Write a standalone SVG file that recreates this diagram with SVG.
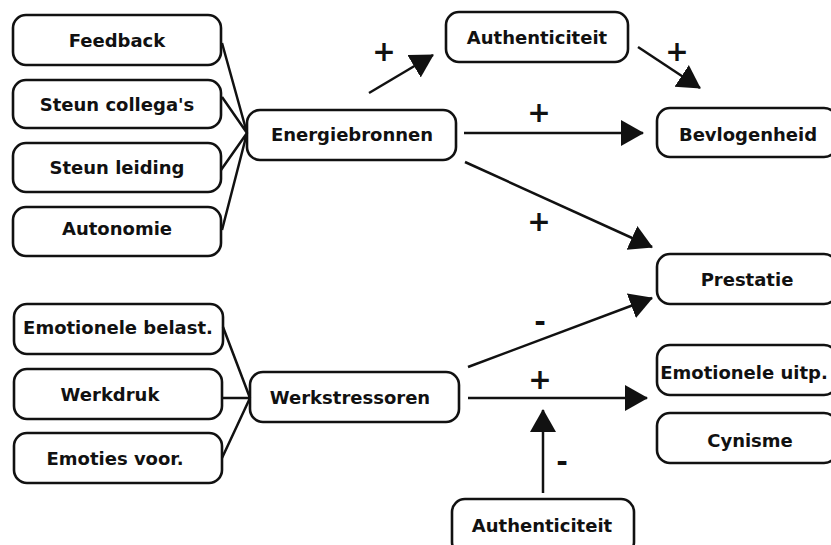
<svg xmlns="http://www.w3.org/2000/svg" width="831" height="545" viewBox="0 0 831 545">
<defs>
<style>
.box{fill:#fff;stroke:#111;stroke-width:2.6}
.t{font-family:"DejaVu Sans",Verdana,sans-serif;font-weight:bold;font-size:18px;fill:#111;text-anchor:middle;dominant-baseline:central}
.s{font-family:"DejaVu Sans",Verdana,sans-serif;font-weight:bold;font-size:28px;fill:#111;text-anchor:middle;dominant-baseline:central}
.ln{stroke:#111;stroke-width:2.5;fill:none}
.ar{stroke:#111;stroke-width:2.5;fill:none;marker-end:url(#ah)}
</style>
<marker id="ah" markerUnits="userSpaceOnUse" markerWidth="26" markerHeight="28" refX="22" refY="13" orient="auto">
<path d="M0,0 L23,13 L0,26 Z" fill="#111"/>
</marker>
</defs>
<rect width="831" height="545" fill="#fff"/>
<g id="feedback"><rect class="box" x="13" y="15" width="208" height="50" rx="13"/><text class="t" x="117" y="40">Feedback</text></g>
<g id="steun-collegas"><rect class="box" x="13" y="80" width="208" height="48" rx="13"/><text class="t" x="117" y="104">Steun collega's</text></g>
<g id="steun-leiding"><rect class="box" x="13" y="143" width="208" height="49" rx="13"/><text class="t" x="117" y="167">Steun leiding</text></g>
<g id="autonomie"><rect class="box" x="13" y="207" width="208" height="49" rx="13"/><text class="t" x="117" y="228">Autonomie</text></g>
<g id="energiebronnen"><rect class="box" x="247" y="110" width="209" height="50" rx="13"/><text class="t" x="352" y="134">Energiebronnen</text></g>
<g id="authenticiteit-top"><rect class="box" x="446" y="12" width="182" height="50" rx="13"/><text class="t" x="537" y="37">Authenticiteit</text></g>
<g id="bevlogenheid"><rect class="box" x="657" y="108" width="180" height="49" rx="13"/><text class="t" x="748" y="134">Bevlogenheid</text></g>
<g id="prestatie"><rect class="box" x="657" y="254" width="180" height="50" rx="13"/><text class="t" x="747" y="279">Prestatie</text></g>
<g id="emotionele-uitp"><rect class="box" x="657" y="345" width="180" height="50" rx="13"/><text class="t" x="744" y="372">Emotionele uitp.</text></g>
<g id="cynisme"><rect class="box" x="657" y="413" width="180" height="50" rx="13"/><text class="t" x="750" y="440">Cynisme</text></g>
<g id="emotionele-belast"><rect class="box" x="14" y="304" width="209" height="50" rx="13"/><text class="t" x="118" y="327">Emotionele belast.</text></g>
<g id="werkdruk"><rect class="box" x="14" y="369" width="208" height="50" rx="13"/><text class="t" x="110" y="394">Werkdruk</text></g>
<g id="emoties-voor"><rect class="box" x="14" y="433" width="208" height="50" rx="13"/><text class="t" x="115" y="458">Emoties voor.</text></g>
<g id="werkstressoren"><rect class="box" x="250" y="372" width="209" height="50" rx="13"/><text class="t" x="350" y="397">Werkstressoren</text></g>
<g id="authenticiteit-bottom"><rect class="box" x="452" y="499" width="182" height="56" rx="13"/><text class="t" x="542" y="525">Authenticiteit</text></g>
<g id="connectors">
<path class="ln" d="M222,43 L247,133 M222,97 L247,133 M221,170 L247,133 M222,230 L247,133"/>
<path class="ln" d="M223,327 L250,398 M222,398 L250,398 M222,458 L250,398"/>
<path class="ar" d="M369,93 L433,55"/>
<path class="ar" d="M638,47 L700,88"/>
<path class="ar" d="M464,133 L643,133"/>
<path class="ar" d="M465,162 L652,247"/>
<path class="ar" d="M468,367 L652,298"/>
<path class="ar" d="M468,398 L647,398"/>
<path class="ar" d="M543,493 L543,410"/>
<text class="s" x="384" y="51">+</text>
<text class="s" x="677" y="51">+</text>
<text class="s" x="539" y="112">+</text>
<text class="s" x="539" y="221">+</text>
<text class="s" x="540" y="321">-</text>
<text class="s" x="540" y="379">+</text>
<text class="s" x="562" y="461">-</text>
</g>
</svg>
